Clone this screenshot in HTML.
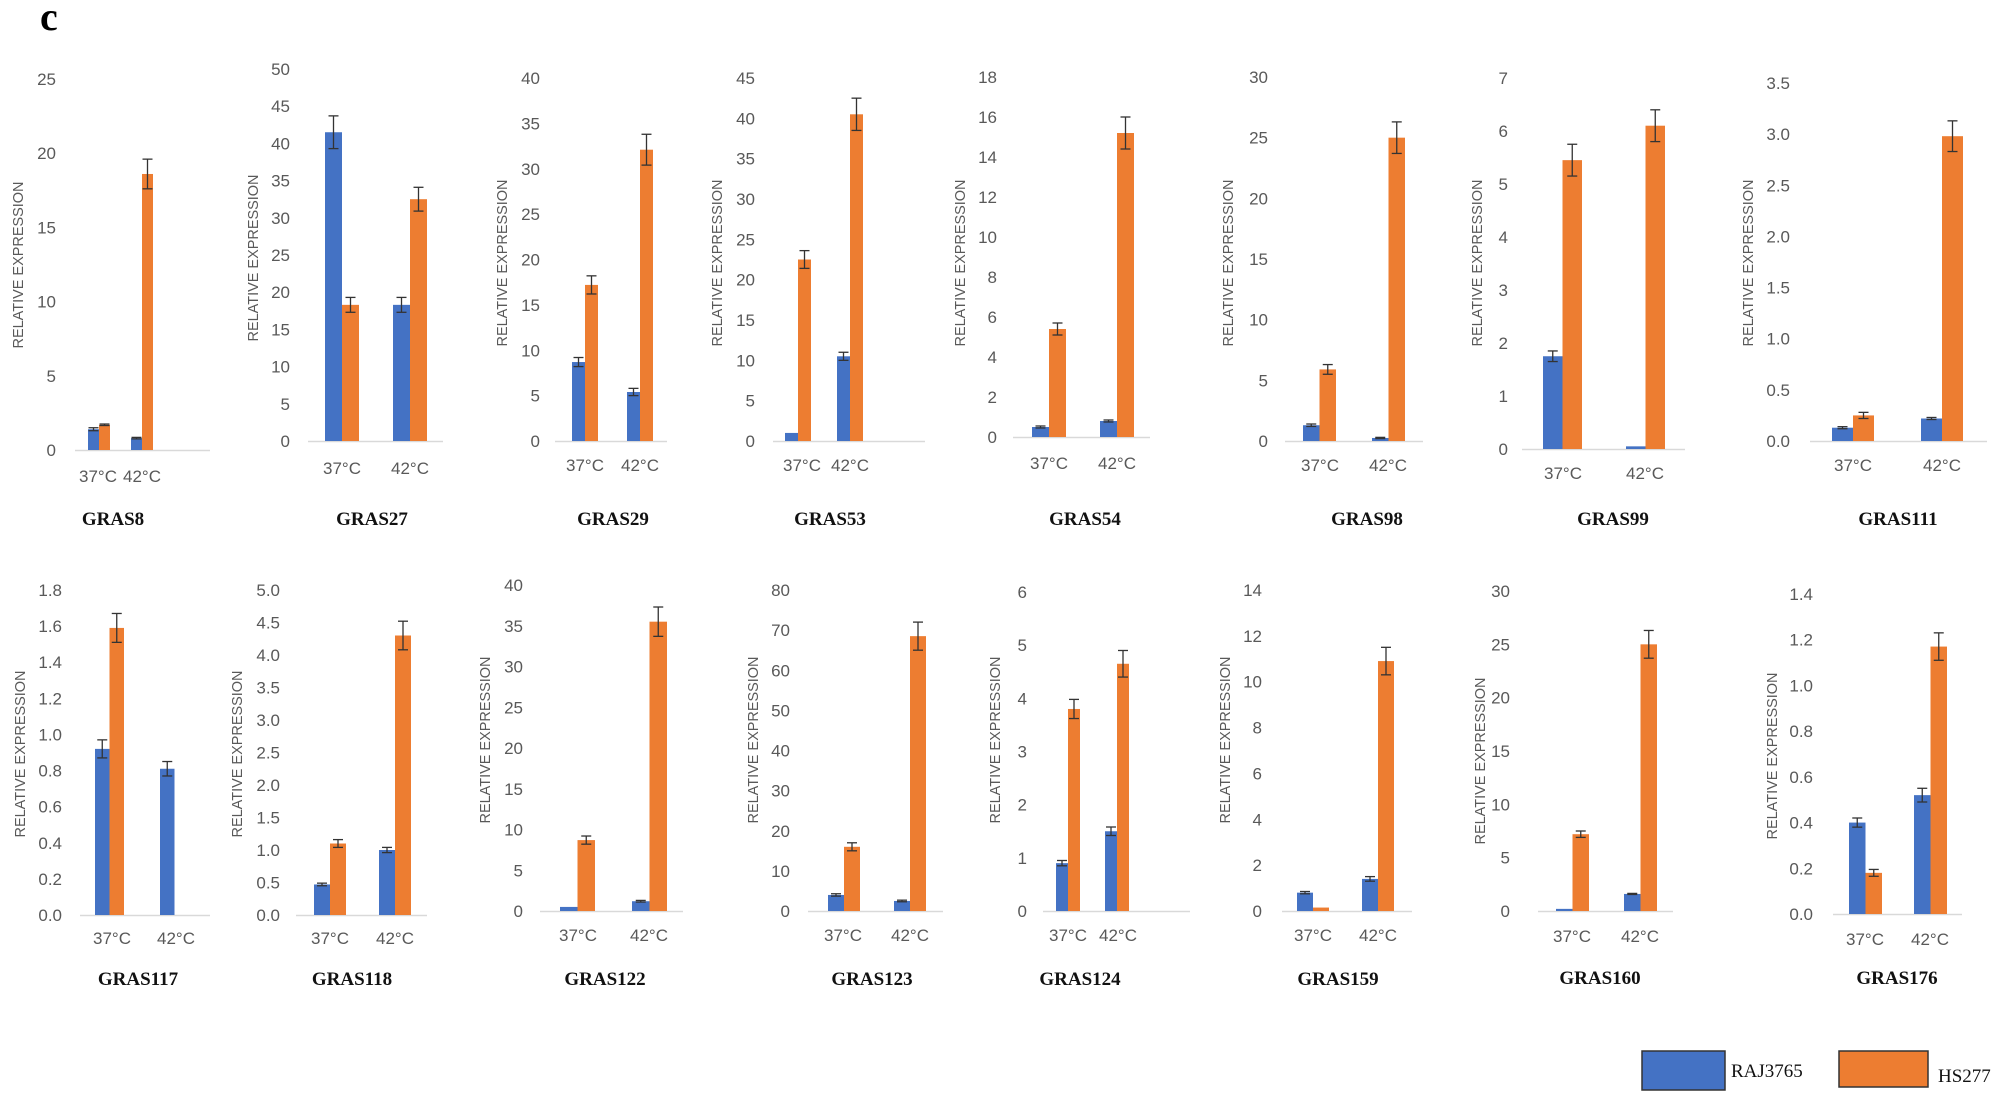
<!DOCTYPE html>
<html><head><meta charset="utf-8">
<style>
html,body{margin:0;padding:0;background:#fff;}
svg{display:block;}
.tk{font-family:"Liberation Sans",sans-serif;font-size:17px;fill:#595959;}
.yl{font-family:"Liberation Sans",sans-serif;font-size:15px;fill:#595959;}
.cat{font-family:"Liberation Sans",sans-serif;font-size:17px;fill:#595959;}
.tt{font-family:"Liberation Serif",serif;font-size:19px;font-weight:bold;fill:#111;}
.lg{font-family:"Liberation Serif",serif;font-size:19px;fill:#111;}
</style></head><body>
<svg id="s" width="2007" height="1098" xmlns="http://www.w3.org/2000/svg">
<text x="40" y="30" font-family="Liberation Serif,serif" font-size="40" font-weight="bold" fill="#000">c</text>
<rect x="1642" y="1051" width="83" height="39" fill="#4472C4" stroke="#333" stroke-width="1.5"/>
<text class="lg" x="1731" y="1077">RAJ3765</text>
<rect x="1839" y="1051" width="89" height="36" fill="#ED7D31" stroke="#333" stroke-width="1.5"/>
<text class="lg" x="1938" y="1082">HS277</text>
</svg>
<script>
var C=[
["GRAS8",56,25,5,0,450,79,75,210,11,88,131,[1.4,1.7,0.8,18.6],[0.1,0.05,0.05,1.0],98,142,476,113,518,18,265],
["GRAS27",290,50,5,0,441,69,308,443,17,325,393,[41.5,18.3,18.3,32.5],[2.2,1,1,1.6],342,410,468,372,518,253,258],
["GRAS29",540,40,5,0,441,78,555,667,13,572,627,[8.7,17.2,5.4,32.1],[0.5,1,0.4,1.7],585,640,465,613,518,502,263],
["GRAS53",755,45,5,0,441,78,773,925,13,785,837,[1,22.5,10.5,40.5],[0,1.1,0.5,2],802,850,465,830,518,717,263],
["GRAS54",997,18,2,0,437,77,1013,1150,17,1032,1100,[0.5,5.4,0.8,15.2],[0.05,0.3,0.05,0.8],1049,1117,463,1085,518,960,263],
["GRAS98",1268,30,5,0,441,77,1285,1423,16.5,1303,1372,[1.3,5.9,0.25,25],[0.1,0.4,0.05,1.3],1320,1388,465,1367,518,1228,263],
["GRAS99",1508,7,1,0,449,78,1522,1685,19.5,1543,1626,[1.75,5.45,0.05,6.1],[0.1,0.3,0,0.3],1563,1645,473,1613,518,1477,263],
["GRAS111",1790,3.5,0.5,1,441,83,1810,1987,21,1832,1921,[0.13,0.25,0.22,2.98],[0.01,0.03,0.01,0.15],1853,1942,465,1898,518,1748,263],
["GRAS117",62,1.8,0.2,1,915,590,80,210,14.5,95,160,[0.92,1.59,0.81,0],[0.05,0.08,0.04,0],112,176,938,138,978,20,754],
["GRAS118",280,5,0.5,1,915,590,296,427,16,314,379,[0.47,1.1,1.0,4.3],[0.02,0.06,0.04,0.22],330,395,938,352,978,237,754],
["GRAS122",523,40,5,0,911,585,540,683,17.5,560,632,[0.5,8.7,1.2,35.5],[0,0.5,0.1,1.8],578,649,935,605,978,485,740],
["GRAS123",790,80,10,0,911,590,808,943,16,828,894,[4,16,2.5,68.5],[0.3,1,0.2,3.5],843,910,935,872,978,753,740],
["GRAS124",1027,6,1,0,911,592,1043,1190,12,1056,1105,[0.9,3.8,1.5,4.65],[0.05,0.18,0.08,0.25],1068,1118,935,1080,978,995,740],
["GRAS159",1262,14,2,0,911,590,1282,1412,16,1297,1362,[0.8,0.15,1.4,10.9],[0.05,0,0.1,0.6],1313,1378,935,1338,978,1225,740],
["GRAS160",1510,30,5,0,911,591,1538,1673,16.5,1556,1624,[0.2,7.2,1.6,25],[0,0.3,0.05,1.3],1572,1640,936,1600,977,1480,761],
["GRAS176",1813,1.4,0.2,1,914,594,1833,1962,16.5,1849,1914,[0.4,0.18,0.52,1.17],[0.02,0.015,0.03,0.06],1865,1930,939,1897,977,1772,756]
];
var s=document.getElementById('s'),NS="http://www.w3.org/2000/svg";
function el(t,a,txt){var e=document.createElementNS(NS,t);for(var k in a)e.setAttribute(k,a[k]);if(txt!=null)e.textContent=txt;s.appendChild(e);return e;}
C.forEach(function(c){
 var n=c[0],tr=c[1],mx=c[2],st=c[3],dc=c[4],y0=c[5],yt=c[6],ax1=c[7],ax2=c[8],bw=c[9],l37=c[10],l42=c[11],v=c[12],er=c[13];
 function Y(val){return y0-(y0-yt)*val/mx;}
 var nt=Math.round(mx/st);
 for(var i=0;i<=nt;i++){var val=i*st;el('text',{'class':'tk',x:tr,y:Y(val)+6,'text-anchor':'end'},val.toFixed(dc));}
 el('line',{x1:ax1,x2:ax2,y1:y0+0.5,y2:y0+0.5,stroke:'#d9d9d9','stroke-width':1.5});
 var xs=[l37,l37+bw,l42,l42+bw],cols=['#4472C4','#ED7D31','#4472C4','#ED7D31'];
 for(var j=0;j<4;j++){
  if(v[j]<=0)continue;
  var top=Y(v[j]);
  el('rect',{x:xs[j],y:top,width:bw,height:y0-top,fill:cols[j]});
  if(er[j]>0){var cx=xs[j]+bw/2,a=Y(v[j]+er[j]),b=Y(v[j]-er[j]);
   el('line',{x1:cx,x2:cx,y1:a,y2:b,stroke:'#333','stroke-width':1.3});
   el('line',{x1:cx-5,x2:cx+5,y1:a,y2:a,stroke:'#333','stroke-width':1.3});
   el('line',{x1:cx-5,x2:cx+5,y1:b,y2:b,stroke:'#333','stroke-width':1.3});}
 }
 el('text',{'class':'cat',x:c[14],y:c[16]+6,'text-anchor':'middle'},'37°C');
 el('text',{'class':'cat',x:c[15],y:c[16]+6,'text-anchor':'middle'},'42°C');
 el('text',{'class':'tt',x:c[17],y:c[18]+7,'text-anchor':'middle'},n);
 el('text',{'class':'yl',x:0,y:0,'text-anchor':'middle',textLength:167,lengthAdjust:'spacingAndGlyphs',transform:'translate('+(c[19]+5)+','+c[20]+') rotate(-90)'},'RELATIVE EXPRESSION');
});
</script>
</body></html>
